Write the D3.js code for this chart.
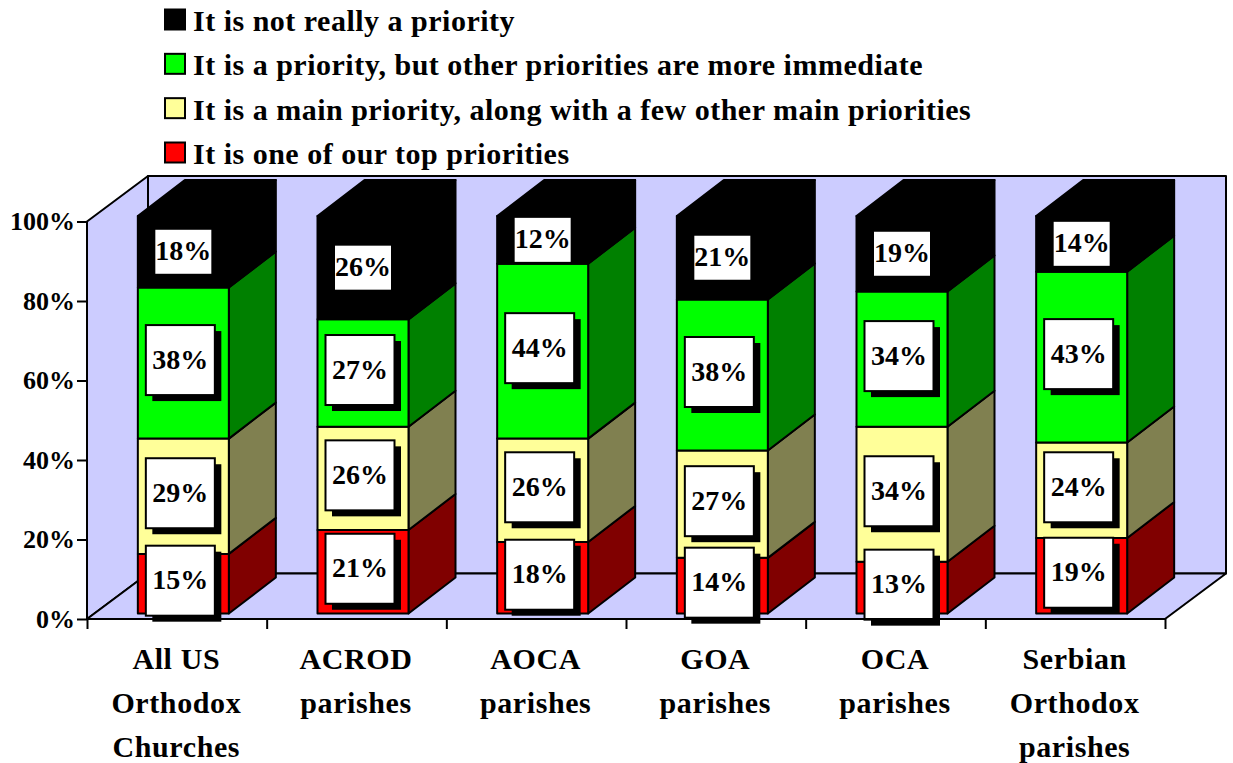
<!DOCTYPE html>
<html><head><meta charset="utf-8">
<style>
html,body{margin:0;padding:0;background:#fff}
svg{display:block}
text{font-family:"Liberation Serif",serif;font-weight:bold;fill:#000}
.legend text{font-size:30px;letter-spacing:.5px}
.tick text{font-size:26px}
.cat{font-size:30px;letter-spacing:.6px}
.val{font-size:28px}
</style>
<script src="https://cdn.jsdelivr.net/npm/d3@7"></script></head>
<body><svg id="c" width="1233" height="763"></svg>
<script>
const categories=[["All US","Orthodox","Churches"],["ACROD","parishes"],["AOCA","parishes"],["GOA","parishes"],["OCA","parishes"],["Serbian","Orthodox","parishes"]];
const seriesNames=["It is one of our top priorities","It is a main priority, along with a few other main priorities","It is a priority, but other priorities are more immediate","It is not really a priority"];
const topPriority=[15,21,18,14,13,19];
const mainPriority=[29,26,26,27,34,24];
const otherPriority=[38,27,44,38,34,43];
const notPriority=[18,26,12,21,19,14];
const frontColors=["#ff0000","#ffff99","#00ff00","#000000"];
const sideColors=["#800000","#808050","#008000","#000000"];
const yTicks=[0,20,40,60,80,100];

const svg=d3.select("#c");
const y=d3.scaleLinear().domain([0,100]).range([619,221.5]);
const x=d3.scaleBand().domain(d3.range(categories.length)).range([87,1165]).paddingInner(0).paddingOuter(0);
const xEdge=d3.scaleLinear().domain([0,categories.length]).range([87,1165]);
const depth={dx:61,dy:-45.5}, barDepth={dx:47,dy:-36}, barOff={dx:0,dy:-5.5}, barW=91;
const poly=p=>p.map(a=>a.join(",")).join(" ");
const wallStyle=s=>s.attr("fill","#ccccff").attr("stroke","#000").attr("stroke-width",2).attr("stroke-linejoin","round");
const x0=x.range()[0],x1=x.range()[1],yb=y(0),yt=y(100);
svg.append("polygon").attr("points",poly([[x0,yb],[x0,yt],[x0+depth.dx,yt+depth.dy],[x0+depth.dx,yb+depth.dy]])).call(wallStyle);
svg.append("polygon").attr("points",poly([[x0+depth.dx,yb+depth.dy],[x0+depth.dx,yt+depth.dy],[x1+depth.dx,yt+depth.dy],[x1+depth.dx,yb+depth.dy]])).call(wallStyle);
svg.append("polygon").attr("points",poly([[x0,yb],[x1,yb],[x1+depth.dx,yb+depth.dy],[x0+depth.dx,yb+depth.dy]])).call(wallStyle);

const stacks=[topPriority,mainPriority,otherPriority,notPriority];
const bars=svg.append("g");
const labels=svg.append("g");
categories.forEach((c,i)=>{
  const L=x(i)+(x.bandwidth()-barW)/2+6.5,R=L+barW;
  let cum=0;
  stacks.forEach((s,k)=>{
    const v=s[i],a=y(cum)+barOff.dy,b=y(cum+v)+barOff.dy;
    const g=bars.append("g").attr("stroke","#000").attr("stroke-width",2).attr("stroke-linejoin","round");
    g.append("polygon").attr("points",poly([[R,a],[R+barDepth.dx,a+barDepth.dy],[R+barDepth.dx,b+barDepth.dy],[R,b]])).attr("fill",sideColors[k]);
    g.append("rect").attr("x",L).attr("y",b).attr("width",barW).attr("height",a-b).attr("fill",frontColors[k]);
    if(k===stacks.length-1)g.append("polygon").attr("points",poly([[L,b],[L+barDepth.dx,b+barDepth.dy],[R+barDepth.dx,b+barDepth.dy],[R,b]])).attr("fill",frontColors[k]);
    const mid=(a+b)/2;
    if(k===stacks.length-1){
      const cx=L+45.5;
      labels.append("rect").attr("x",cx-28).attr("y",mid-22).attr("width",56).attr("height",44).attr("fill","#fff");
      labels.append("text").attr("class","val").attr("x",cx).attr("y",mid+8.5).attr("text-anchor","middle").text(v+"%");
    }else{
      const cx=L+42.5,cy=mid-3;
      labels.append("rect").attr("x",cx-34+6).attr("y",cy-35+6).attr("width",69).attr("height",70).attr("fill","#000");
      labels.append("rect").attr("x",cx-34.5).attr("y",cy-35).attr("width",69).attr("height",70).attr("fill","#fff").attr("stroke","#000").attr("stroke-width",2);
      labels.append("text").attr("class","val").attr("x",cx).attr("y",cy+8.5).attr("text-anchor","middle").text(v+"%");
    }
    cum+=v;
  });
});

const yAxis=d3.axisLeft(y).tickValues(yTicks).tickFormat(d=>d+"%").tickSize(10).tickPadding(2);
const gy=svg.append("g").attr("transform",`translate(${x0},0)`).call(yAxis);
const xAxis=d3.axisBottom(xEdge).tickValues(d3.range(categories.length+1)).tickFormat("").tickSize(10);
const gx=svg.append("g").attr("transform",`translate(0,${yb})`).call(xAxis);
[gy,gx].forEach(g=>{g.attr("font-family",null).attr("font-size",null);g.selectAll("path,line").attr("stroke","#000").attr("stroke-width",2);});
gy.select(".domain").attr("d",`M${0},${yb}V${yt}`);
gx.select(".domain").attr("d",`M${x0},0H${x1}`);

const catG=svg.append("g");
categories.forEach((lines,i)=>lines.forEach((t,j)=>{
  catG.append("text").attr("class","cat").attr("x",x(i)+x.bandwidth()/2-0.5).attr("y",669+j*44).attr("text-anchor","middle").text(t);
}));

const legendOrder=d3.range(seriesNames.length).reverse();
const leg=svg.append("g").attr("class","legend");
const legY=d3.scalePoint().domain(legendOrder).range([19.5,152.5]);
legendOrder.forEach(k=>{
  leg.append("rect").attr("x",165).attr("y",legY(k)-10).attr("width",20).attr("height",20).attr("fill",frontColors[k]).attr("stroke","#000").attr("stroke-width",2);
  leg.append("text").attr("x",193).attr("y",legY(k)+11.5).text(seriesNames[k]);
});
</script></body></html>
